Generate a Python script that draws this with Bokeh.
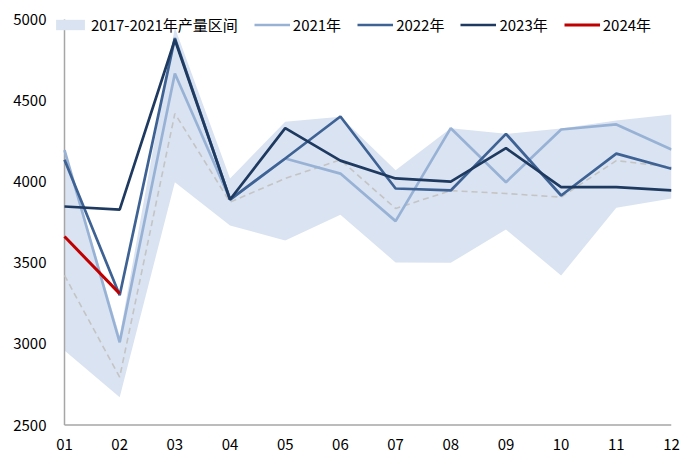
from bokeh.plotting import figure
from bokeh.models import Range1d, FixedTicker, Legend, LegendItem
from bokeh.embed import file_html
from bokeh.resources import INLINE

months = [1, 2, 3, 4, 5, 6, 7, 8, 9, 10, 11, 12]
month_labels = ["01", "02", "03", "04", "05", "06", "07", "08", "09", "10", "11", "12"]
y_ticks = [2500, 3000, 3500, 4000, 4500, 5000]

band_high = [4205, 3050, 4950, 4020, 4370, 4400, 4070, 4330, 4295, 4328, 4377, 4414]
band_low = [2960, 2671, 3997, 3730, 3637, 3797, 3502, 3500, 3705, 3422, 3840, 3896]
avg_5y = [3422, 2795, 4420, 3874, 4020, 4135, 3835, 3945, 3927, 3905, 4130, 4090]

y2021 = [4195, 3010, 4667, 3890, 4143, 4050, 3757, 4330, 3997, 4322, 4353, 4198]
y2022 = [4135, 3300, 4885, 3890, 4143, 4402, 3958, 3946, 4295, 3915, 4173, 4080]
y2023 = [3847, 3828, 4875, 3890, 4330, 4130, 4020, 4001, 4207, 3966, 3966, 3946]
y2024 = [3662, 3310]
months_2024 = [1, 2]

FONT = "Noto Sans CJK SC"
AXIS_GRAY = "#A6A6A6"

# frame: left 52, right 671, top 10, bottom 430 (pixels)
px_per_month = (671 - 64) / 11.0
px_per_unit = (424.5 - 19.0) / 2500.0
x_start = 1 - 12 / px_per_month
y_end = 5000 + 9 / px_per_unit
y_start = 2500 - 5.5 / px_per_unit

p = figure(width=700, height=467, output_backend="svg", toolbar_location=None,
           x_range=Range1d(x_start, 12), y_range=Range1d(y_start, y_end),
           min_border_left=52, min_border_right=29, min_border_top=10, min_border_bottom=37)

p.outline_line_color = None
p.xgrid.visible = False
p.ygrid.visible = False
p.background_fill_color = "white"

band = p.varea(x=months, y1=band_low, y2=band_high, fill_color="#DAE3F1", fill_alpha=1.0)

# axis lines drawn along the data extent
p.segment(x0=[1, 1], y0=[2500, 2500], x1=[1, 12], y1=[5000, 2500],
          line_color=AXIS_GRAY, line_width=1.5)

p.line(months, avg_5y, line_color="#C4C4C4", line_width=1.6, line_dash="6 4")
l21 = p.line(months, y2021, line_color="#98B2D6", line_width=2.7)
l22 = p.line(months, y2022, line_color="#3E6294", line_width=2.7)
l23 = p.line(months, y2023, line_color="#1F3A60", line_width=2.7)
l24 = p.line(months_2024, y2024, line_color="#C00000", line_width=3)

for ax in (p.xaxis[0], p.yaxis[0]):
    ax.axis_line_color = None
    ax.major_tick_line_color = None
    ax.minor_tick_line_color = None
    ax.major_tick_out = 0
    ax.major_tick_in = 0
    ax.major_label_text_font = FONT
    ax.major_label_text_font_size = "15px"
    ax.major_label_text_color = "#000000"

p.xaxis[0].ticker = FixedTicker(ticks=months)
p.xaxis[0].major_label_overrides = {m: lab for m, lab in zip(months, month_labels)}
p.xaxis[0].major_label_standoff = 8
p.yaxis[0].ticker = FixedTicker(ticks=y_ticks)
p.yaxis[0].major_label_standoff = 6

legend = Legend(items=[
    LegendItem(label="2017-2021年产量区间", renderers=[band]),
    LegendItem(label="2021年", renderers=[l21]),
    LegendItem(label="2022年", renderers=[l22]),
    LegendItem(label="2023年", renderers=[l23]),
    LegendItem(label="2024年", renderers=[l24]),
], orientation="horizontal", location=(0, 395))
legend.label_text_font = FONT
legend.label_text_font_size = "15px"
legend.label_text_color = "#000000"
legend.glyph_width = 36
legend.glyph_height = 13
legend.label_standoff = 3
legend.spacing = 16
legend.padding = 0
legend.margin = 0
legend.background_fill_alpha = 0
legend.border_line_color = None
p.add_layout(legend, "center")

open("out.html", "w").write(file_html(p, INLINE))
